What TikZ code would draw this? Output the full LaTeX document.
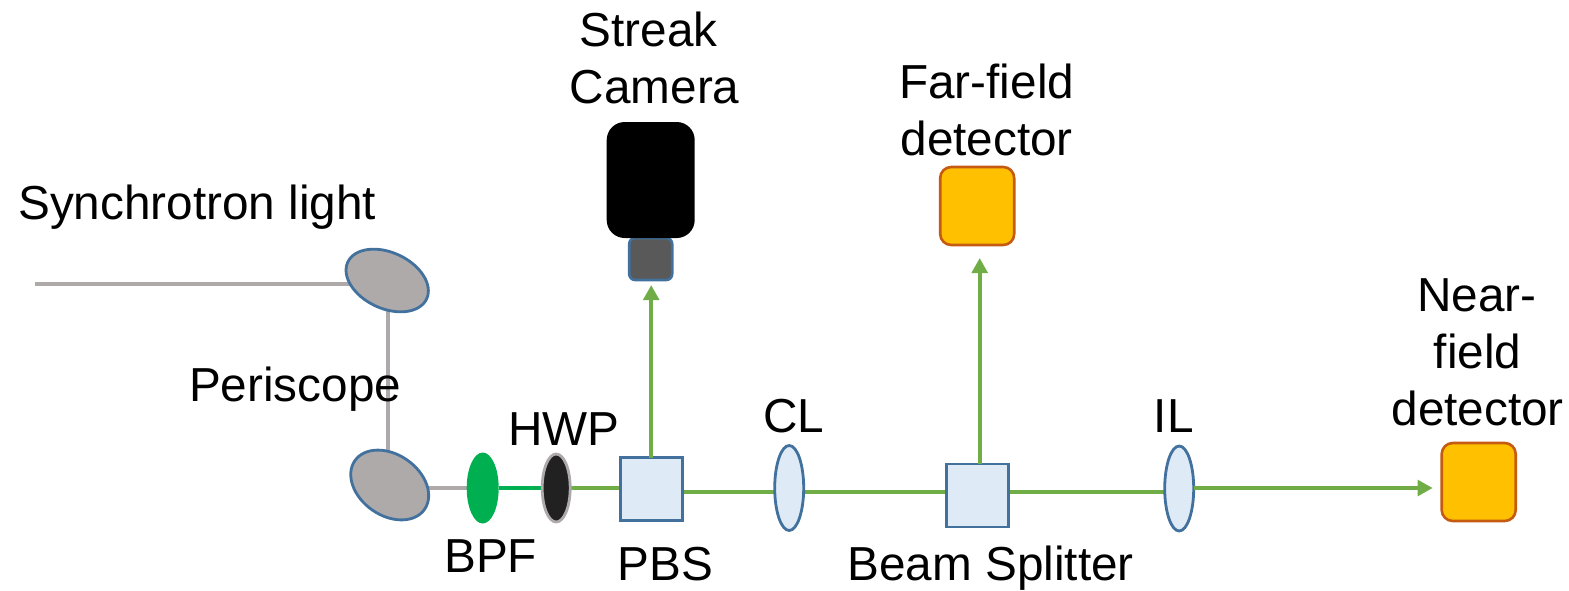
\documentclass[tikz,border=0pt]{standalone}
\usepackage{fontspec}
\setmainfont{Liberation Sans}
\usetikzlibrary{shapes.geometric,arrows.meta,backgrounds}
\definecolor{beam}{HTML}{70AD47}
\definecolor{edgeblue}{HTML}{41719C}
\definecolor{lensfill}{HTML}{DEEAF6}
\definecolor{mirror}{HTML}{AEAAAA}
\definecolor{detfill}{HTML}{FFC000}
\definecolor{detedge}{HTML}{C55A11}
\definecolor{bpfgreen}{HTML}{00B050}
\tikzset{
  lbl/.style={inner sep=0pt,outer sep=0pt,font=\fontsize{47.7}{57}\selectfont,align=center,text=black},
  mirrorel/.style={ellipse,draw=edgeblue,fill=mirror,line width=2.8pt,inner sep=0pt,outer sep=0pt},
  lens/.style={ellipse,draw=edgeblue,fill=lensfill,line width=2.8pt,inner sep=0pt,outer sep=0pt,minimum width=29pt,minimum height=85pt},
  cube/.style={rectangle,draw=edgeblue,fill=lensfill,line width=2.6pt,inner sep=0pt,outer sep=0pt,minimum width=62pt,minimum height=63pt},
  detector/.style={rectangle,rounded corners=11pt,draw=detedge,fill=detfill,line width=2.6pt,inner sep=0pt,outer sep=0pt,minimum width=74pt,minimum height=78pt},
  graybeam/.style={draw=mirror,line width=3.6pt},
  greenbeam/.style={draw=beam,line width=4pt},
  arrowbeam/.style={greenbeam,-{Triangle[length=15pt,width=15.5pt]}},
}
\begin{document}
\begin{tikzpicture}[x=1pt,y=-1pt]
\useasboundingbox (-0.7,0) rectangle (1568.3,590);
% elements
\node[mirrorel,minimum width=87pt,minimum height=56pt,rotate=-25] (m1) at (386.5,280.5) {};
\node[mirrorel,minimum width=85pt,minimum height=61pt,rotate=-35] (m2) at (389,485) {};
\node[ellipse,fill=bpfgreen,inner sep=0pt,outer sep=0pt,minimum width=32pt,minimum height=71pt] (bpf) at (482,488) {};
\node[ellipse,draw=mirror,fill=black!87,line width=2.8pt,inner sep=0pt,outer sep=0pt,minimum width=28pt,minimum height=68pt] (hwp) at (555.5,488) {};
\node[cube] (pbs) at (650.5,489) {};
\node[lens] (cl) at (788.5,488) {};
\node[cube] (bs) at (976.5,495.5) {};
\node[lens] (il) at (1178.5,488.5) {};
\node[detector] (near) at (1478,482) {};
\node[detector] (far) at (976.5,206) {};
\node[rectangle,rounded corners=6pt,draw=edgeblue,fill=black!65,line width=2.6pt,inner sep=0pt,outer sep=0pt,minimum width=43pt,minimum height=42pt] (lensbody) at (650,259) {};
\node[rectangle,rounded corners=18pt,fill=black,inner sep=0pt,outer sep=0pt,minimum width=88pt,minimum height=116pt] (cam) at (650,180) {};
\coordinate (start) at (34,284);
\coordinate (tipA) at (650.5,285);
\coordinate (tipB) at (979,258);
\coordinate (tipC) at (1432,488);
% connectors
\begin{scope}[on background layer]
\draw[graybeam] (start) -- (m1.center |- start);
\draw[graybeam] (387,290) -- (387,470);
\draw[graybeam] (m2.center |- bpf) -- (bpf);
\draw[bpfgreen,line width=4pt] (bpf) -- (hwp);
\draw[greenbeam] (hwp) -- (hwp -| pbs);
\draw[greenbeam] (pbs |- 0,492) -- (bs |- 0,492);
\draw[greenbeam] (bs |- 0,492) -- (il |- 0,492);
\end{scope}
\draw[arrowbeam] (pbs.north) -- (tipA);
\draw[arrowbeam] (bs.north -| tipB) -- (tipB);
\draw[arrowbeam] (il.east |- tipC) -- (tipC);
% labels
\node[lbl,anchor=base] (t1) at (648,46) {Streak};
\node[lbl,anchor=base] (t2) at (654,103) {Camera};
\node[lbl,anchor=base] (t3) at (986,98) {Far-field};
\node[lbl,anchor=base] (t4) at (986,155) {detector};
\node[lbl,anchor=base] (t5) at (1476,311) {Near-};
\node[lbl,anchor=base] (t6) at (1477,368) {field};
\node[lbl,anchor=base] (t7) at (1477,425) {detector};
\node[lbl,anchor=base] (t8) at (196.5,219) {Synchrotron light};
\node[lbl,anchor=base] (t9) at (294.5,401) {Periscope};
\node[lbl,anchor=base] (t10) at (563,445) {HWP};
\node[lbl,anchor=base] (t11) at (490,572) {BPF};
\node[lbl,anchor=base] (t12) at (665,580) {PBS};
\node[lbl,anchor=base] (t13) at (793,432) {CL};
\node[lbl,anchor=base] (t14) at (990,580) {Beam Splitter};
\node[lbl,anchor=base] (t15) at (1173,432) {IL};
\end{tikzpicture}
\end{document}
